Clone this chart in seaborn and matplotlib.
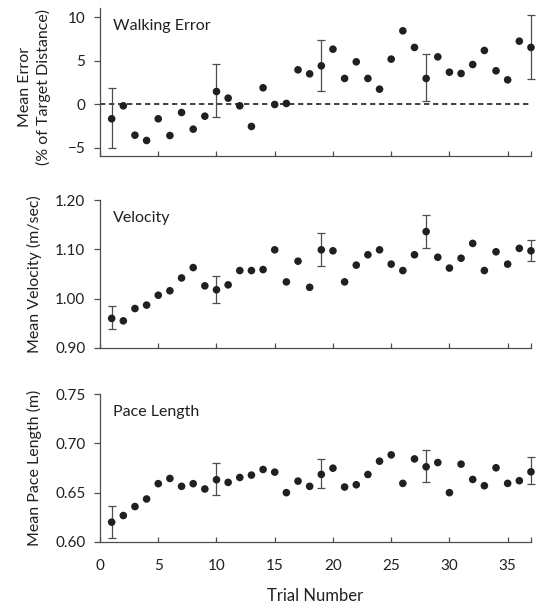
import matplotlib
matplotlib.use("Agg")
import matplotlib.pyplot as plt
import seaborn as sns
import numpy as np
import pandas as pd

# Trial-by-trial means
trials = [1, 2, 3, 4, 5, 6, 7, 8, 9, 10, 11, 12, 13, 14, 15, 16, 17, 18, 19,
          20, 21, 22, 23, 24, 25, 26, 27, 28, 29, 30, 31, 32, 33, 34, 35, 36, 37]

walk_error = [-1.68, -0.19, -3.56, -4.17, -1.68, -3.6, -0.96, -2.87, -1.38, 1.45,
              0.69, -0.19, -2.56, 1.88, -0.04, 0.08, 3.94, 3.48, 4.40, 6.31,
              2.95, 4.86, 2.95, 1.72, 5.17, 8.42, 6.51, 2.95, 5.43, 3.67,
              3.52, 4.55, 6.16, 3.83, 2.79, 7.23, 6.51]

velocity = [0.960, 0.955, 0.980, 0.987, 1.007, 1.016, 1.042, 1.063, 1.026, 1.018,
            1.028, 1.057, 1.057, 1.059, 1.099, 1.034, 1.076, 1.023, 1.099, 1.097,
            1.034, 1.068, 1.089, 1.099, 1.070, 1.057, 1.089, 1.136, 1.084, 1.062,
            1.082, 1.112, 1.057, 1.095, 1.070, 1.102, 1.097]

pace_length = [0.6201, 0.6268, 0.6359, 0.6436, 0.6591, 0.6644, 0.6564, 0.6591, 0.6537, 0.6631,
               0.6604, 0.6654, 0.6678, 0.6735, 0.6708, 0.6500, 0.6617, 0.6564, 0.6685, 0.6748,
               0.6557, 0.6580, 0.6684, 0.6819, 0.6883, 0.6594, 0.6842, 0.6762, 0.6805, 0.6500,
               0.6789, 0.6634, 0.6570, 0.6752, 0.6594, 0.6621, 0.6711]

# Error bars are only shown on every ninth trial (upper / lower ends)
err_trials = [1, 10, 19, 28, 37]
walk_hi = [1.80, 4.59, 7.42, 5.78, 10.22]
walk_lo = [-5.00, -1.45, 1.53, 0.31, 2.87]
vel_hi = [0.986, 1.045, 1.134, 1.169, 1.119]
vel_lo = [0.938, 0.991, 1.066, 1.103, 1.077]
pace_hi = [0.6366, 0.6805, 0.6846, 0.6936, 0.6862]
pace_lo = [0.6037, 0.6480, 0.6547, 0.6604, 0.6587]

df = pd.DataFrame({"trial": trials, "walk": walk_error, "vel": velocity, "pace": pace_length})

sns.set_theme(style="ticks")
plt.rcParams['font.family'] = ['Lato', 'DejaVu Sans']

ink = "#231f20"
spine_col = "#4d4d4d"

fig = plt.figure(figsize=(5.36, 6.03), dpi=100)
ax1 = fig.add_axes([0.1866, 0.7413, 0.804, 0.2449])
ax2 = fig.add_axes([0.1866, 0.4229, 0.804, 0.2454])
ax3 = fig.add_axes([0.1866, 0.1012, 0.804, 0.2454])

panels = [
    (ax1, "walk", walk_hi, walk_lo, "Walking Error", "Mean Error\n(% of Target Distance)",
     (-5.95, 11), [-5, 0, 5, 10], "{:.0f}"),
    (ax2, "vel", vel_hi, vel_lo, "Velocity", "Mean Velocity (m/sec)",
     (0.90, 1.20), [0.90, 1.00, 1.10, 1.20], "{:.2f}"),
    (ax3, "pace", pace_hi, pace_lo, "Pace Length", "Mean Pace Length (m)",
     (0.60, 0.75), [0.60, 0.65, 0.70, 0.75], "{:.2f}"),
]

for ax, col, hi, lo, title, ylabel, ylim, yticks, fmt in panels:
    if col == "walk":
        ax.axhline(0, color=ink, lw=1.2, dashes=(3.2, 2.2), zorder=1)

    means = df.set_index("trial").loc[err_trials, col].values
    yerr = [means - np.array(lo), np.array(hi) - means]
    ax.errorbar(err_trials, means, yerr=yerr, fmt="none", ecolor=spine_col,
                elinewidth=0.9, capsize=2.6, capthick=0.9, zorder=2, clip_on=False)

    sns.scatterplot(data=df, x="trial", y=col, ax=ax, color=ink, s=30,
                    edgecolor="none", zorder=3, clip_on=False, legend=False)

    ax.set_xlim(0, 37)
    ax.set_ylim(*ylim)
    ax.set_yticks(yticks)
    ax.set_yticklabels([fmt.format(v).replace("-", "\u2212") for v in yticks])
    ax.set_xticks([0, 5, 10, 15, 20, 25, 30, 35, 37])

    ax.text(0.03, 0.88, title, transform=ax.transAxes, va="center", ha="left",
            fontsize=11.5, color=ink)

    ax.set_ylabel(ylabel, fontsize=11.5, color=ink, va="center", linespacing=1.25)
    ax.yaxis.set_label_coords(-0.152, 0.5 if col != "walk" else 0.47)
    ax.set_xlabel("")

    for side in ["top", "right"]:
        ax.spines[side].set_visible(False)
    for side in ["left", "bottom"]:
        ax.spines[side].set_color(spine_col)
        ax.spines[side].set_linewidth(0.9)

    ax.tick_params(axis="y", direction="out", length=4.5, width=0.9, color=spine_col,
                   labelsize=11, labelcolor=ink, pad=6)
    ax.tick_params(axis="x", direction="in", length=3.5, width=0.9, color=spine_col,
                   labelsize=11, labelcolor=ink, pad=12)

ax1.set_xticklabels([])
ax2.set_xticklabels([])
ax3.set_xticklabels(["0", "5", "10", "15", "20", "25", "30", "35", ""])
ax3.set_xlabel("Trial Number", fontsize=12, color=ink, labelpad=11)

fig.savefig("out.png", dpi=100)
